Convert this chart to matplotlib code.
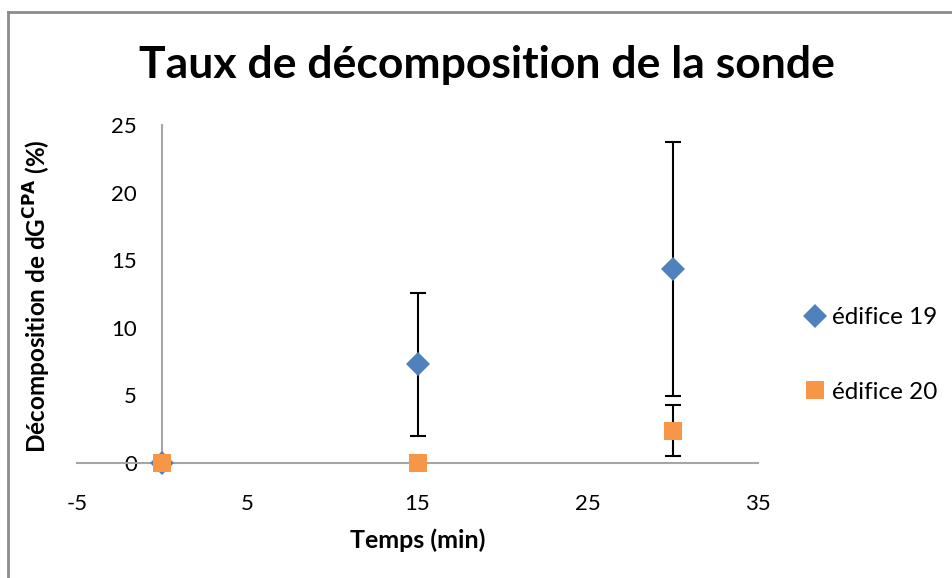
import matplotlib.pyplot as plt
from matplotlib.lines import Line2D

# data
temps = [0, 15, 30]
edifice19 = [0, 7.3, 14.35]
err19 = [0, 5.3, 9.4]
edifice20 = [0, 0, 2.4]
err20 = [0, 0, 1.9]

xticks = [-5, 5, 15, 25, 35]
yticks = [0, 5, 10, 15, 20, 25]

BLUE = "#4F81BD"
ORANGE = "#F79646"
FONT = ["Lato", "DejaVu Sans"]


def main():
    plt.rcParams['font.family'] = FONT
    plt.rcParams['axes.unicode_minus'] = False
    fig = plt.figure(figsize=(9.52, 5.78), dpi=100)
    ax = fig.add_axes([77 / 952, 1 - 463 / 578, (758 - 77) / 952, (463 - 125) / 578])

    # outer chart border (only left and top are visible)
    fig.add_artist(Line2D([8 / 952, 8 / 952], [0, 1 - 12 / 578], transform=fig.transFigure,
                          color="#8c8c8c", lw=2))
    fig.add_artist(Line2D([8 / 952, 1], [1 - 12 / 578, 1 - 12 / 578], transform=fig.transFigure,
                          color="#8c8c8c", lw=2))

    ax.errorbar(temps, edifice19, yerr=err19, fmt='none', ecolor='black', elinewidth=1.5,
                capsize=6, capthick=1.5, zorder=3, clip_on=False)
    ax.errorbar(temps, edifice20, yerr=err20, fmt='none', ecolor='black', elinewidth=1.5,
                capsize=6, capthick=1.5, zorder=3, clip_on=False)
    ax.plot(temps, edifice19, linestyle='none', marker='D', markersize=12, color=BLUE,
            markeredgewidth=0, label="édifice 19", zorder=4, clip_on=False)
    ax.plot(temps, edifice20, linestyle='none', marker='s', markersize=13, color=ORANGE,
            markeredgewidth=0, label="édifice 20", zorder=5, clip_on=False)

    ax.set_xlim(-5, 35)
    ax.set_ylim(0, 25)
    ax.set_xticks(xticks)
    ax.set_yticks(yticks)

    for side in ("top", "right"):
        ax.spines[side].set_visible(False)
    ax.spines["left"].set_position(("data", 0))
    ax.spines["bottom"].set_position(("data", 0))
    ax.spines["left"].set_color("#a6a6a6")
    ax.spines["bottom"].set_color("#a6a6a6")
    ax.spines["left"].set_linewidth(1.5)
    ax.spines["bottom"].set_linewidth(1.5)
    ax.tick_params(axis='both', length=0, labelsize=16)
    ax.tick_params(axis='x', pad=22)
    ax.tick_params(axis='y', pad=18)

    fig.text(487 / 952, 1 - 65 / 578, "Taux de décomposition de la sonde", ha='center',
             va='center', fontsize=32, fontweight='bold')
    fig.text(418 / 952, 1 - 540 / 578, "Temps (min)", ha='center', va='center',
             fontsize=18, fontweight='bold')
    fig.text(37 / 952, 1 - 296 / 578, "Décomposition de dG$^{\\mathbf{CPA}}$ (%)", ha='center',
             va='center', rotation=90, fontsize=17.5, fontweight='bold')

    ax.legend(loc='center left', bbox_to_anchor=(1.03, 0.32), frameon=False, fontsize=17.5,
              handletextpad=0.1, labelspacing=2.2, handlelength=1.2)

    fig.savefig("out.png", dpi=100)


if __name__ == "__main__":
    main()
